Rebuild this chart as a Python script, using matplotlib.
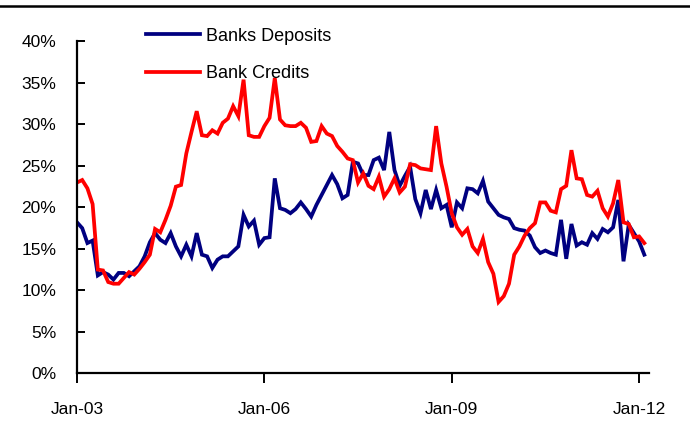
import numpy as np
import matplotlib
matplotlib.use("Agg")
import matplotlib.pyplot as plt
from matplotlib.lines import Line2D

plt.rcParams['font.family'] = ['Liberation Sans', 'DejaVu Sans']

# Monthly series, Jan-2003 .. Feb-2012 (annual growth, %)
deposits = [
    18.2, 17.5, 15.7, 16.0, 11.8, 12.2, 11.9, 11.3, 12.1, 12.1, 11.7, 12.3,
    12.9, 14.1, 15.8, 16.9, 16.1, 15.7, 16.9, 15.3, 14.1, 15.5, 14.1, 16.9,
    14.3, 14.1, 12.7, 13.7, 14.1, 14.1, 14.7, 15.3, 19.1, 17.7, 18.4, 15.5,
    16.3, 16.4, 23.5, 19.9, 19.7, 19.3, 19.8, 20.6, 19.8, 18.9, 20.3, 21.5,
    22.7, 23.9, 22.8, 21.1, 21.5, 25.5, 25.3, 23.9, 23.9, 25.7, 26.0, 24.5,
    29.1, 24.5, 22.6, 23.8, 24.9, 21.0, 19.3, 22.1, 19.8, 22.1, 19.9, 20.3,
    17.6, 20.6, 19.9, 22.3, 22.2, 21.7, 23.2, 20.7, 19.9, 19.1, 18.8, 18.6,
    17.5, 17.3, 17.2, 16.6, 15.2, 14.5, 14.8, 14.5, 14.3, 18.5, 13.8, 18.0,
    15.4, 15.8, 15.5, 16.9, 16.2, 17.4, 17.0, 17.6, 20.9, 13.5, 17.9, 16.9,
    15.9, 14.3,
]
credits = [
    23.0, 23.3, 22.3, 20.4, 12.5, 12.4, 11.0, 10.8, 10.8, 11.5, 12.2, 11.9,
    12.6, 13.4, 14.3, 17.4, 17.0, 18.5, 20.2, 22.5, 22.7, 26.5, 29.1, 31.6,
    28.7, 28.6, 29.3, 28.9, 30.2, 30.7, 32.2, 31.0, 35.4, 28.7, 28.5, 28.5,
    29.8, 30.8, 35.6, 30.6, 29.9, 29.8, 29.8, 30.2, 29.6, 27.9, 28.0, 29.8,
    28.9, 28.6, 27.4, 26.7, 25.9, 25.7, 23.0, 24.1, 22.6, 22.2, 23.7, 21.3,
    22.2, 23.5, 21.8, 22.5, 25.2, 25.1, 24.7, 24.6, 24.5, 29.8, 25.3, 22.5,
    19.3, 17.6, 16.7, 17.4, 15.3, 14.5, 16.2, 13.4, 12.0, 8.6, 9.3, 10.8,
    14.3, 15.3, 16.6, 17.5, 18.1, 20.6, 20.6, 19.6, 19.4, 22.2, 22.6, 26.9,
    23.5, 23.4, 21.5, 21.3, 22.0, 19.9, 18.9, 20.5, 23.3, 18.2, 18.0, 16.4,
    16.5, 15.7,
]
tick_months = [0, 36, 72, 108]
tick_labels = ["Jan-03", "Jan-06", "Jan-09", "Jan-12"]
y_ticks = [0, 5, 10, 15, 20, 25, 30, 35, 40]
series_names = ["Banks Deposits", "Bank Credits"]

months = np.arange(len(deposits))

fig = plt.figure(figsize=(6.9, 4.48), dpi=100)
ax = fig.add_axes([77/690, 74.7/448, (649-77)/690, (373.3-41.5)/448])

ax.plot(months, deposits, color="#000080", lw=2.7, label=series_names[0],
        solid_joinstyle="miter")
ax.plot(months, credits, color="#FF0000", lw=2.7, label=series_names[1],
        solid_joinstyle="miter")

ax.set_xlim(0, 109.9)
ax.set_ylim(0, 40)
ax.set_yticks(y_ticks)
ax.set_yticklabels([f"{v}%" for v in y_ticks])
ax.set_xticks(tick_months)
ax.set_xticklabels(tick_labels)

for s in ["top", "right"]:
    ax.spines[s].set_visible(False)
for s in ["left", "bottom"]:
    ax.spines[s].set_linewidth(1.6)
    ax.spines[s].set_color("black")

ax.tick_params(axis="y", direction="in", length=6, width=1.4, pad=15,
               labelsize=12.5, colors="black")
ax.tick_params(axis="x", direction="out", length=7, width=1.4, pad=14,
               labelsize=12.5, colors="black")

leg = ax.legend(loc="upper left", bbox_to_anchor=(0.108, 1.063), frameon=False,
                fontsize=13, handlelength=3.0, handletextpad=0.35,
                labelspacing=1.12, borderaxespad=0)

fig.add_artist(Line2D([0, 1], [1 - 6.3/448, 1 - 6.3/448], color="black",
                      lw=1.8, transform=fig.transFigure))

fig.savefig("out.png", dpi=100)
